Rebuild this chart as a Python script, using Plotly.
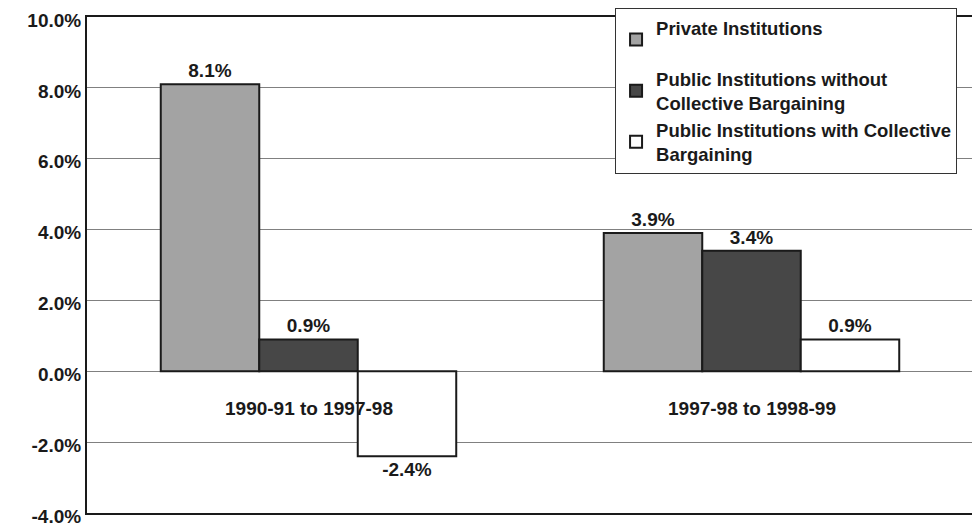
import plotly.graph_objects as go

categories = ["1990-91 to 1997-98", "1997-98 to 1998-99"]
series_names = [
    "Private Institutions<br> ",
    "Public Institutions without<br>Collective Bargaining",
    "Public Institutions with Collective<br>Bargaining",
]
private_vals = [8.1, 3.9]
public_no_cb_vals = [0.9, 3.4]
public_cb_vals = [-2.4, 0.9]
y_ticks = [-4, -2, 0, 2, 4, 6, 8, 10]

colors = ["#a3a3a3", "#474747", "#ffffff"]
font_fam = "Liberation Sans, Arial, sans-serif"

fig = go.Figure()
for i, (name, vals, col) in enumerate(zip(series_names, [private_vals, public_no_cb_vals, public_cb_vals], colors)):
    fig.add_trace(go.Bar(
        x=categories, y=vals, name="<b>%s</b>" % name, legendgroup="g%d" % i,
        marker=dict(color=col, line=dict(color="#1a1a1a", width=2)),
        texttemplate="<b>%{y:.1f}%</b>", textposition="outside",
        textfont=dict(family=font_fam, size=19, color="#1a1a1a"),
        cliponaxis=False,
    ))

for c in categories:
    fig.add_annotation(x=c, y=0, yshift=-37, text="<b>%s</b>" % c, showarrow=False,
                       font=dict(family=font_fam, size=19, color="#1a1a1a"))

fig.update_layout(
    width=980, height=527,
    margin=dict(l=79, r=15, t=9, b=22, autoexpand=False),
    paper_bgcolor="white", plot_bgcolor="white",
    barmode="group", bargap=0.333, bargroupgap=0,
    showlegend=True,
    legend=dict(x=0.596, y=1.018, xanchor="left", yanchor="top",
                bgcolor="white", bordercolor="#333333", borderwidth=1,
                font=dict(family=font_fam, size=18.5, color="#1a1a1a"),
                itemwidth=30, traceorder="normal", tracegroupgap=12),
    font=dict(family=font_fam, color="#1a1a1a"),
)
fig.update_xaxes(showticklabels=False, showgrid=False, showline=True, linecolor="#1a1a1a",
                 linewidth=2, mirror=True, ticks="", automargin=False)
fig.update_yaxes(range=[-4, 10], tickvals=y_ticks, ticktext=["<b>%.1f%%</b>" % v for v in y_ticks],
                 showgrid=True, gridcolor="#808080", gridwidth=1,
                 zeroline=True, zerolinecolor="#808080", zerolinewidth=1,
                 showline=True, linecolor="#1a1a1a", linewidth=2, mirror=True,
                 tickfont=dict(family=font_fam, size=19, color="#1a1a1a"), ticks="",
                 ticklabelshift=3, ticklabeloverflow="allow", automargin=False)

fig.write_html("out.html")
